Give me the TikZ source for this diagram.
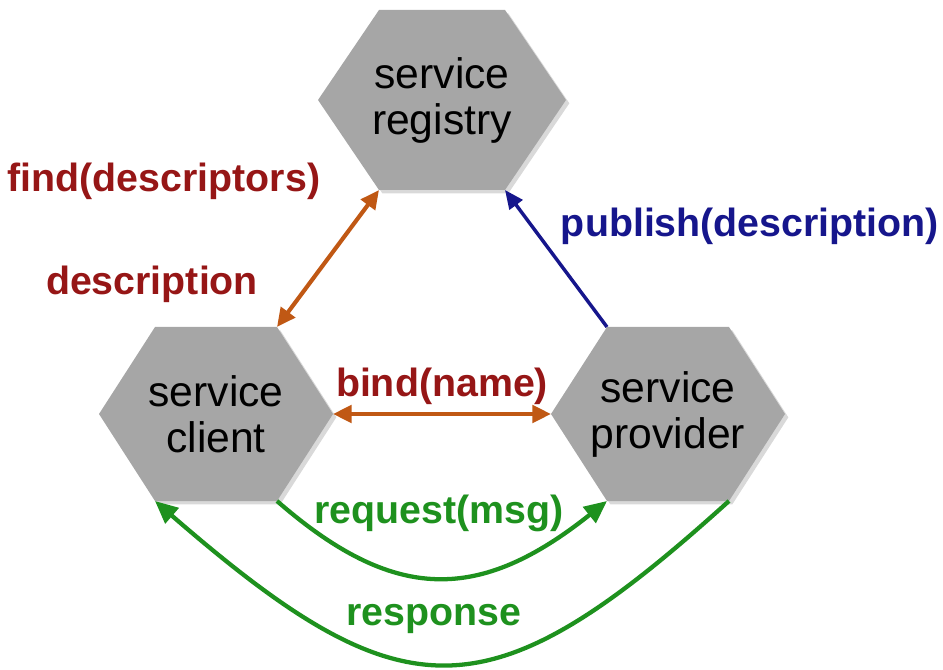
\documentclass[tikz,border=0pt]{standalone}
\usepackage{fontspec}
\setmainfont{Liberation Sans}
\usetikzlibrary{arrows.meta,shadows}

\definecolor{hexgrey}{RGB}{166,166,166}
\definecolor{labelred}{RGB}{150,22,22}
\definecolor{findorange}{RGB}{192,88,20}
\definecolor{pubblue}{RGB}{22,22,140}
\definecolor{msggreen}{RGB}{30,145,30}

\tikzset{every picture/.style={line width=0.75pt}}

\begin{document}
\begin{tikzpicture}[x=0.75pt,y=0.75pt,yscale=-1,xscale=1,
  hexshape/.style={fill=hexgrey, drop shadow={shadow xshift=2.5pt, shadow yshift=-2.5pt, opacity=0.3}},
  hextext/.style={align=center, font=\fontsize{32}{34.5}\selectfont, inner sep=0pt},
  msglabel/.style={anchor=base, font=\fontsize{29.5}{32}\selectfont\bfseries, inner sep=0pt},
  orangeline/.style={draw=findorange, line width=3.1pt, >={Triangle[length=14pt,width=13pt]}},
  blueline/.style={draw=pubblue, line width=2.6pt, >={Triangle[length=14pt,width=12pt]}},
  greenline/.style={draw=msggreen, line width=3.2pt, >={Triangle[length=17pt,width=15pt]}}
]
		%set diagram size to 943 x 670
		\useasboundingbox (0,0) rectangle (943,670);
		
		%Hexagons: name / centre / half width / half height / corner offset / text
		\foreach \n/\cx/\cy/\hw/\hh/\off/\txt in {reg/442/100/124/90/61/{service\\registry}, cl/216/414/117/87/56/{service\\client}, pr/668/414/117/87/56/{service\\provider}}{
			\coordinate (\n-w) at ({\cx-\hw},\cy);
			\coordinate (\n-e) at ({\cx+\hw},\cy);
			\coordinate (\n-nw) at ({\cx-\hw+\off},{\cy-\hh});
			\coordinate (\n-ne) at ({\cx+\hw-\off},{\cy-\hh});
			\coordinate (\n-sw) at ({\cx-\hw+\off},{\cy+\hh});
			\coordinate (\n-se) at ({\cx+\hw-\off},{\cy+\hh});
			\fill[hexshape] (\n-w) -- (\n-nw) -- (\n-ne) -- (\n-e) -- (\n-se) -- (\n-sw) -- cycle;
			\node[hextext] (\n) at (\cx,\cy) {\txt};
		}
		
		%Straight Lines: find / description
		\draw[orangeline,<->] (cl-ne) -- (reg-sw);
		%Straight Lines: publish
		\draw[blueline,->] (pr-nw) -- (reg-se);
		%Straight Lines: bind
		\draw[orangeline,<->] (cl-e) -- (pr-w);
		%Curve Lines: request
		\draw[greenline,->] (cl-se) .. controls +(117,102) and +(-128,102) .. (pr-sw);
		%Curve Lines: response
		\draw[greenline,->] (pr-se) .. controls +(-240,217) and +(250,217) .. (cl-sw);
		
		% Text Node
		\node[msglabel, text=labelred] (findlbl) at (164,192) {find(descriptors)};
		% Text Node
		\node[msglabel, text=labelred] (desclbl) at (152,295) {description};
		% Text Node
		\node[msglabel, text=pubblue] (publbl) at (750,237) {publish(description)};
		% Text Node
		\node[msglabel, text=labelred] (bindlbl) at (442,397) {bind(name)};
		% Text Node
		\node[msglabel, text=msggreen] (reqlbl) at (439,523) {request(msg)};
		% Text Node
		\node[msglabel, text=msggreen] (resplbl) at (434,625) {response};
		
\end{tikzpicture}
\end{document}
